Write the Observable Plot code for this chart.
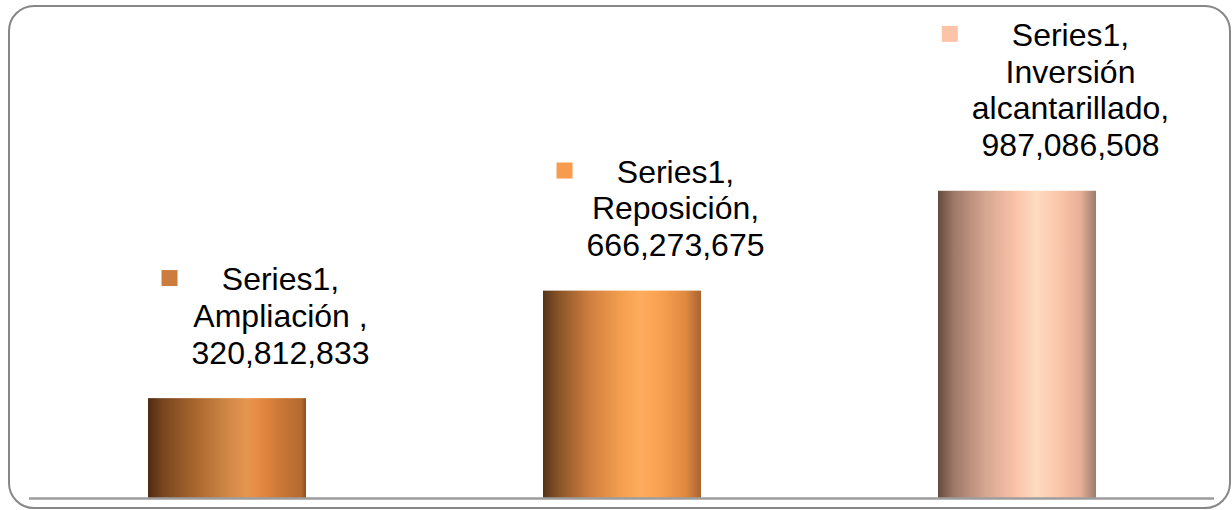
<!DOCTYPE html>
<html><head><meta charset="utf-8">
<script src="https://cdn.jsdelivr.net/npm/d3@7"></script>
<script src="https://cdn.jsdelivr.net/npm/@observablehq/plot@0.6"></script>
<style>
body{margin:0;background:#fff;}
#wrap{position:relative;width:1232px;height:510px;overflow:hidden;font-family:"Liberation Sans",Arial,sans-serif;}
#chart{position:absolute;left:0;top:0;}
#frame{position:absolute;left:8px;top:5px;width:1223px;height:504px;border:2px solid #878787;border-radius:26px;box-sizing:border-box;pointer-events:none;}
</style></head><body>
<div id="wrap"><div id="chart"></div><div id="frame"></div></div>
<script>
// ---- data ----
const seriesName = "Series1";
const categories = ["Ampliación ", "Reposición", "Inversión alcantarillado"];
const values = [320812833, 666273675, 987086508];
const keyColors = ["#cc7d3d", "#f79b4e", "#fbc4a8"];

// ---- styles (cylinder-like horizontal gradients) ----
const gradientStops = [
  [[0,"#4e2c12"],[0.1,"#7a4620"],[0.3,"#a9662e"],[0.5,"#d08645"],[0.62,"#e4964f"],[0.7,"#e68a44"],[0.85,"#c87636"],[0.97,"#b46a2e"],[1,"#8a5020"]],
  [[0,"#553519"],[0.1,"#8a5428"],[0.3,"#d07f40"],[0.5,"#f5a050"],[0.62,"#ffac5e"],[0.75,"#f8a050"],[0.9,"#e08a40"],[1,"#a86430"]],
  [[0,"#654b3c"],[0.1,"#9e7868"],[0.3,"#d6a690"],[0.5,"#fcc4a8"],[0.62,"#fddcc0"],[0.75,"#fcc8ac"],[0.9,"#e8b098"],[1,"#9c7c6c"]]
];

const data = categories.map((c, i) => ({category: c, value: values[i], i}));
const fmt = d3.format(",");

const plot = Plot.plot({
  width: 1232,
  height: 510,
  marginLeft: 29,
  marginRight: 18,
  marginTop: 0,
  marginBottom: 12,
  x: {domain: categories, axis: null, paddingInner: 0.6, paddingOuter: 0.3},
  y: {domain: [0, 1.6e9], axis: null},
  color: {type: "identity"},
  style: {fontFamily: '"Liberation Sans", Arial, sans-serif', background: "transparent", overflow: "visible"},
  marks: [
    Plot.barY(data, {x: "category", y: "value", fill: d => `url(#barGrad${d.i})`}),
    Plot.ruleY([0], {stroke: "#9d9d9d", strokeWidth: 2.5}),
    Plot.text(data, {
      x: "category", y: "value",
      text: d => `${seriesName},\n${d.category},\n${fmt(d.value)}`,
      lineAnchor: "bottom", lineHeight: 1.15, lineWidth: 7,
      fontSize: 32, fill: "#000", dx: 53, dy: -35
    })
  ]
});

const svg = d3.select(plot);
const defs = svg.insert("defs", ":first-child");
gradientStops.forEach((stops, i) => {
  const g = defs.append("linearGradient").attr("id", `barGrad${i}`)
    .attr("x1", "0").attr("x2", "1").attr("y1", "0").attr("y2", "0");
  stops.forEach(([o, c]) => g.append("stop").attr("offset", o).attr("stop-color", c));
});

document.getElementById("chart").appendChild(plot);

// legend-key squares next to each data label
const svgRect = plot.getBoundingClientRect();
svg.selectAll('g[aria-label="text"] text').each(function(_, i) {
  const r = this.getBoundingClientRect();
  const cx = r.left - svgRect.left - 22;
  const cy = r.top - svgRect.top + 17;
  svg.append("rect").attr("x", cx - 8).attr("y", cy - 8).attr("width", 16).attr("height", 16)
    .attr("fill", keyColors[i]);
});
</script>
</body></html>
